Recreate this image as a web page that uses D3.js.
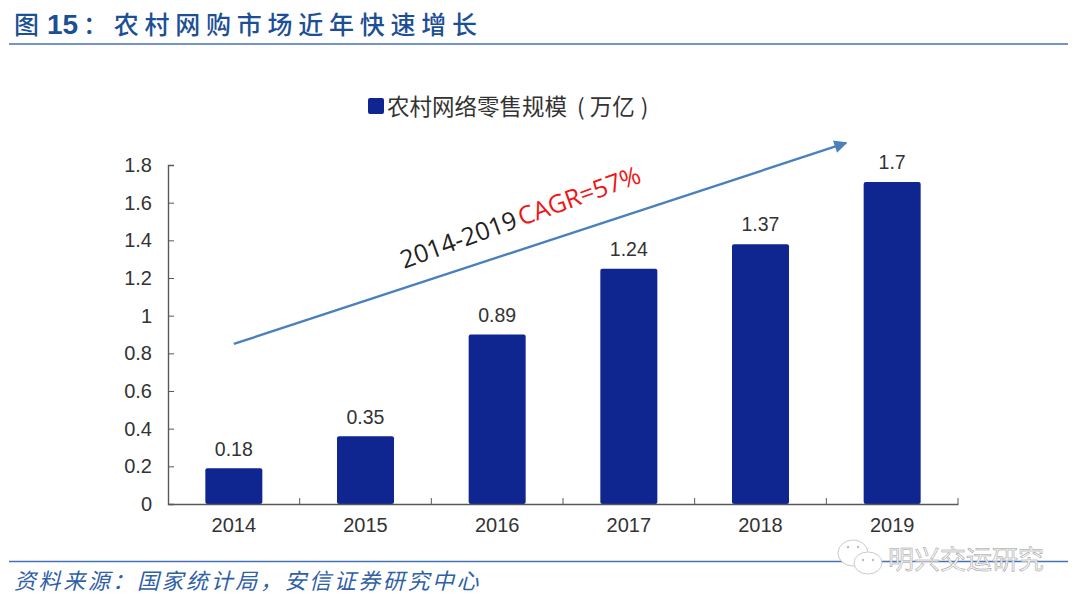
<!DOCTYPE html>
<html>
<head>
<meta charset="utf-8">
<script src="https://cdn.jsdelivr.net/npm/d3@7"></script>
<style>
  html, body { margin: 0; padding: 0; background: #fff; }
  text { font-family: "Liberation Sans", "Noto Sans CJK SC", sans-serif; }
  .cjk { font-family: "Noto Sans CJK SC", sans-serif; }
</style>
</head>
<body>
<script>
// chart data
var years = ["2014", "2015", "2016", "2017", "2018", "2019"];
var values = [0.18, 0.35, 0.89, 1.24, 1.37, 1.7];
var yTicks = [0, 0.2, 0.4, 0.6, 0.8, 1, 1.2, 1.4, 1.6, 1.8];
var titleHead = "图";
var titleNum = "15";
var titleText = "：农村网购市场近年快速增长";
var legendName = "农村网络零售规模";
var legendUnit = "万亿";
var sourceText = "资料来源：国家统计局，安信证券研究中心";
var watermarkText = "明兴交运研究";

var svg = d3.select("body").append("svg")
  .attr("width", 1080).attr("height", 605)
  .style("display", "block");

var x = d3.scaleBand().domain(years).range([168, 958]).padding(0);
var y = d3.scaleLinear().domain([0, 1.8]).range([504, 165]);
var barW = 57;
var barLift = 1.8; // bars sit a touch above the scale in the original
var navy = "#0f2690";
var axisColor = "#595959";
var labelColor = "#333";

// header and footer
var titleColor = "#1c4f96";
svg.append("text").attr("class", "cjk")
  .attr("x", 14).attr("y", 34).attr("font-size", 25).attr("font-weight", 500)
  .attr("fill", titleColor).text(titleHead);
svg.append("text")
  .attr("x", 47).attr("y", 34).attr("font-size", 28).attr("font-weight", 700)
  .style("font-family", '"Liberation Sans", sans-serif')
  .attr("fill", titleColor).text(titleNum);
svg.append("text").attr("class", "cjk")
  .attr("x", 83).attr("y", 34).attr("font-size", 25).attr("font-weight", 500)
  .attr("letter-spacing", 5.75)
  .attr("fill", titleColor).text(titleText);
svg.append("line").attr("x1", 9).attr("x2", 1068).attr("y1", 44).attr("y2", 44)
  .attr("stroke", "#4472b8").attr("stroke-width", 1.3);
svg.append("line").attr("x1", 9).attr("x2", 1068).attr("y1", 561.5).attr("y2", 561.5)
  .attr("stroke", "#4472b8").attr("stroke-width", 1.3);
svg.append("text").attr("class", "cjk")
  .attr("transform", "translate(14,589) skewX(-14)")
  .attr("font-size", 22).attr("letter-spacing", 2.6)
  .attr("fill", "#2f5fa6")
  .text(sourceText);

// legend
svg.append("rect").attr("x", 368).attr("y", 98).attr("width", 16).attr("height", 16)
  .attr("rx", 2).attr("fill", navy);
var legend = svg.append("text").attr("class", "cjk")
  .attr("x", 387).attr("y", 115)
  .attr("font-size", 22.5).attr("fill", labelColor);
legend.append("tspan").text(legendName);
legend.append("tspan").attr("dx", 10).text("(");
legend.append("tspan").attr("dx", 5).text(legendUnit);
legend.append("tspan").attr("dx", 6).text(")");

// bars
svg.selectAll(".bar").data(years).enter().append("rect")
  .attr("class", "bar")
  .attr("x", function(d) { return x(d) + x.bandwidth() / 2 - barW / 2; })
  .attr("y", function(d, i) { return y(values[i]) - barLift; })
  .attr("width", barW)
  .attr("height", function(d, i) { return y(0) - y(values[i]) + barLift; })
  .attr("rx", 2)
  .attr("fill", navy);

svg.selectAll(".val").data(years).enter().append("text")
  .attr("class", "val")
  .attr("x", function(d) { return x(d) + x.bandwidth() / 2; })
  .attr("y", function(d, i) { return y(values[i]) - 14.5; })
  .attr("text-anchor", "middle")
  .attr("font-size", 19.5).attr("fill", labelColor)
  .text(function(d, i) { return values[i]; });

// axes
var yAxis = d3.axisLeft(y).tickValues(yTicks).tickSize(-6).tickPadding(16)
  .tickFormat(function(d) { return d; });
var gy = svg.append("g").attr("transform", "translate(168,0)").call(yAxis);
var xAxis = d3.axisBottom(x).tickSize(0).tickPadding(14);
var gx = svg.append("g").attr("transform", "translate(0,504)").call(xAxis);
// category boundary ticks point up into the plot
gx.selectAll(".sep").data(years.slice(1)).enter().append("line")
  .attr("class", "sep")
  .attr("x1", function(d) { return x(d); }).attr("x2", function(d) { return x(d); })
  .attr("y1", 0).attr("y2", -6)
  .attr("stroke", axisColor);
gx.append("line").attr("x1", 958).attr("x2", 958).attr("y1", 0).attr("y2", -6).attr("stroke", axisColor);
[gx, gy].forEach(function(g) {
  g.selectAll("path").attr("stroke", axisColor).attr("stroke-width", 1.4);
  g.selectAll(".tick line").attr("stroke", axisColor);
  g.selectAll("text").attr("font-size", 20).attr("fill", labelColor)
    .style("font-family", '"Liberation Sans", sans-serif');
});

// trend arrow, given in data terms
var arrowFrom = { year: "2014", value: 0.85 };
var arrowTo = { year: "2019", value: 1.917 };
var defs = svg.append("defs");
defs.append("marker").attr("id", "head")
  .attr("viewBox", "0 0 10 10").attr("refX", 9).attr("refY", 5)
  .attr("markerWidth", 15).attr("markerHeight", 13)
  .attr("markerUnits", "userSpaceOnUse").attr("orient", "auto")
  .append("path").attr("d", "M0,0L10,5L0,10Z").attr("fill", "#4a80bb");
svg.append("line")
  .attr("x1", x(arrowFrom.year) + x.bandwidth() / 2)
  .attr("y1", y(arrowFrom.value))
  .attr("x2", x(arrowTo.year) + x.bandwidth() / 2 - 46)
  .attr("y2", y(arrowTo.value))
  .attr("stroke", "#4a80bb").attr("stroke-width", 2.4)
  .attr("marker-end", "url(#head)");

// rotated CAGR label
var note = svg.append("text")
  .attr("transform", "translate(404,269) rotate(-20)")
  .attr("font-size", 25)
  .style("font-family", '"Open Sans", sans-serif');
note.append("tspan").attr("fill", "#222").text("2014-2019");
note.append("tspan").attr("fill", "#f01414").attr("dx", 3).text("CAGR=57%");

// watermark
var wm = svg.append("g").attr("fill", "#fff").attr("stroke", "#bdbdbd").attr("stroke-width", 0.8);
wm.append("ellipse").attr("cx", 853).attr("cy", 553).attr("rx", 15).attr("ry", 13);
wm.append("ellipse").attr("cx", 868).attr("cy", 563).attr("rx", 14).attr("ry", 11);
wm.selectAll(".eye").data([[848, 547], [858, 547], [863, 560], [873, 560]]).enter().append("circle")
  .attr("class", "eye")
  .attr("cx", function(d) { return d[0]; }).attr("cy", function(d) { return d[1]; })
  .attr("r", 1.2).attr("fill", "#bdbdbd").attr("stroke", "none");
wm.append("text").attr("class", "cjk")
  .attr("x", 888).attr("y", 569)
  .attr("font-size", 26).attr("fill", "#f6f6f6").attr("stroke", "#999").attr("stroke-width", 0.5)
  .text(watermarkText);
</script>
</body>
</html>
